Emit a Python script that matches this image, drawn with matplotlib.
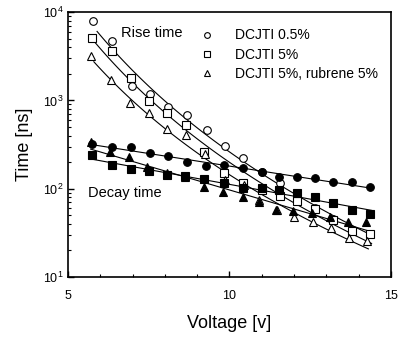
import numpy as np
import matplotlib
matplotlib.use("Agg")
import matplotlib.pyplot as plt
from matplotlib.ticker import MultipleLocator, LogLocator, NullFormatter

plt.rcParams['font.family'] = ['Liberation Sans', 'DejaVu Sans']
plt.rcParams['mathtext.fontset'] = 'custom'
plt.rcParams['mathtext.rm'] = 'Liberation Sans'
plt.rcParams['mathtext.default'] = 'regular'

# --- data ---
# rise time, DCJTI 0.5% (open circles)
v_rise_a = [5.78, 6.37, 6.97, 7.54, 8.11, 8.69, 9.29, 9.86, 10.43, 11.0, 11.55, 12.65, 13.2, 14.35]
t_rise_a = [7900, 4700, 1450, 1180, 840, 680, 460, 304, 222, 154, 116, 60, 45, 31]

# rise time, DCJTI 5% (open squares)
v_rise_b = [5.75, 6.35, 6.95, 7.52, 8.07, 8.65, 9.22, 9.83, 10.43, 11.0, 11.55, 12.1, 12.65, 13.2, 13.78, 14.35]
t_rise_b = [5080, 3610, 1790, 980, 718, 525, 259, 150, 116, 96, 82, 72, 59, 44, 33, 31]

# rise time, DCJTI 5% + rubrene 5% (open triangles)
v_rise_c = [5.7, 6.33, 6.93, 7.5, 8.05, 8.66, 9.25, 9.85, 10.45, 10.92, 11.47, 12.0, 12.58, 13.15, 13.7, 14.27]
t_rise_c = [3200, 1700, 937, 718, 473, 405, 246, 125, 110, 74, 57, 48, 42, 36, 28, 25.5]

# decay time, DCJTI 0.5% (filled circles)
v_dec_a = [5.75, 6.37, 6.95, 7.54, 8.11, 8.67, 9.26, 9.83, 10.43, 11.0, 11.53, 12.1, 12.65, 13.21, 13.78, 14.35]
t_dec_a = [320, 296, 296, 253, 234, 200, 180, 185, 171, 154, 135, 135, 132, 119, 119, 104]

# decay time, DCJTI 5% (filled squares)
v_dec_b = [5.73, 6.35, 6.95, 7.5, 8.05, 8.62, 9.2, 9.83, 10.43, 11.0, 11.53, 12.1, 12.65, 13.21, 13.78, 14.35]
t_dec_b = [240, 185, 167, 158, 143, 139, 129, 116, 102, 102, 96, 89, 80, 69, 57, 52]

# decay time, DCJTI 5% + rubrene 5% (filled triangles)
v_dec_c = [5.7, 6.3, 6.89, 7.45, 8.05, 8.62, 9.21, 9.8, 10.41, 10.9, 11.44, 11.97, 12.55, 13.11, 13.67, 14.23]
t_dec_c = [337, 259, 228, 176, 150, 135, 104, 92, 80, 71, 57, 56, 53, 48, 42, 42]

labels = ['DCJTI 0.5%', 'DCJTI 5%', 'DCJTI 5%, rubrene 5%']

fig = plt.figure(figsize=(4.01, 3.37), dpi=100)
ax = fig.add_axes([0.1696, 0.178, 0.8054, 0.786])

def fit_line(v, t, loglog, v0, v1):
    # rise: power law fit (log-log), decay: exponential fit (semi-log)
    x = np.log10(v) if loglog else np.asarray(v)
    p = np.polyfit(x, np.log10(t), 1)
    vv = np.linspace(v0, v1, 100)
    xx = np.log10(vv) if loglog else vv
    ax.plot(vv, 10 ** np.polyval(p, xx), color='black', lw=0.8, zorder=1)

ms = 5.5
kw_open = dict(ls='none', mfc='white', mec='black', mew=0.8, ms=ms, zorder=3)
kw_fill = dict(ls='none', mfc='black', mec='black', mew=0.8, ms=ms, zorder=3)

fit_line(v_rise_a, t_rise_a, True, 5.9, 14.4)
fit_line(v_rise_b, t_rise_b, True, 5.85, 14.4)
fit_line(v_rise_c, t_rise_c, True, 5.8, 14.3)
fit_line(v_dec_a, t_dec_a, False, 5.7, 14.4)
fit_line(v_dec_b, t_dec_b, False, 5.7, 14.4)
fit_line(v_dec_c, t_dec_c, False, 5.7, 14.3)

h1, = ax.plot(v_rise_a, t_rise_a, marker='o', **kw_open)
h2, = ax.plot(v_rise_b, t_rise_b, marker='s', **kw_open)
h3, = ax.plot(v_rise_c, t_rise_c, marker='^', **kw_open)
ax.plot(v_dec_a, t_dec_a, marker='o', **kw_fill)
ax.plot(v_dec_b, t_dec_b, marker='s', **kw_fill)
ax.plot(v_dec_c, t_dec_c, marker='^', **kw_fill)

ax.set_yscale('log')
ax.set_xlim(5, 15)
ax.set_ylim(10, 10000)
ax.xaxis.set_major_locator(MultipleLocator(5))
ax.xaxis.set_minor_locator(MultipleLocator(1))
ax.yaxis.set_minor_locator(LogLocator(base=10, subs=np.arange(2, 10)))
ax.yaxis.set_minor_formatter(NullFormatter())
ax.tick_params(which='both', direction='in', top=False, right=False, labelsize=9)
ax.tick_params(which='major', length=4, width=1)
ax.tick_params(axis='x', which='major', pad=9.5)
ax.tick_params(which='minor', length=2.5, width=0.8)
for s in ax.spines.values():
    s.set_linewidth(1.2)

ax.set_xlabel('Voltage [v]', fontsize=13, labelpad=9)
ax.set_ylabel('Time [ns]', fontsize=13, labelpad=7)

ax.text(0.165, 0.92, 'Rise time', transform=ax.transAxes, fontsize=10.5, va='center')
ax.text(0.062, 0.318, 'Decay time', transform=ax.transAxes, fontsize=10.5, va='center')

ax.legend([h1, h2, h3], labels, loc='upper left', bbox_to_anchor=(0.375, 0.975),
          frameon=False, fontsize=10, markerscale=0.75, handlelength=1.2,
          handletextpad=1.4, labelspacing=0.38, borderpad=0.2)

fig.savefig('out.png', dpi=100)
